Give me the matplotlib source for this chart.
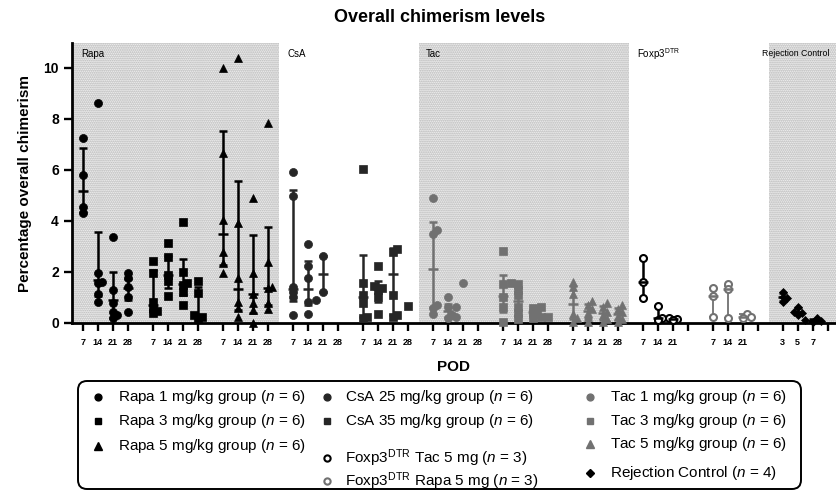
import matplotlib
matplotlib.use('Agg')
import matplotlib.pyplot as plt
import numpy as np
from matplotlib.patches import FancyBboxPatch
from matplotlib.lines import Line2D
from matplotlib.transforms import IdentityTransform

plt.rcParams['font.family'] = ['Liberation Sans', 'DejaVu Sans']
plt.rcParams['mathtext.fontset'] = 'custom'
plt.rcParams['mathtext.rm'] = 'Liberation Sans'
plt.rcParams['mathtext.it'] = 'Liberation Sans:italic'
plt.rcParams['mathtext.bf'] = 'Liberation Sans:bold'
plt.rcParams['hatch.linewidth'] = 1.0

# ---------------- data ----------------
days_std = ['7', '14', '21', '28']
days_fox = ['7', '14', '21', '']
days_rej = ['3', '5', '7', '']

rapa1_points = [[7.24, 5.80, 4.56, 4.30],
                [8.61, 1.95, 1.62, 1.55, 1.14, 0.81],
                [3.39, 1.29, 0.77, 0.44, 0.30, 0.18],
                [1.95, 1.75, 1.42, 1.03, 0.44]]
rapa1_median = [5.18, 1.70, 0.90, 1.38]
rapa1_q1 = [4.37, 1.05, 0.20, 0.90]
rapa1_q3 = [6.88, 3.58, 2.01, 1.72]

rapa3_points = [[2.44, 1.97, 0.84, 0.60, 0.47, 0.40],
                [3.15, 2.60, 1.88, 1.66, 1.07],
                [3.95, 2.01, 1.58, 1.49, 1.23, 0.71],
                [1.66, 1.16, 0.31, 0.25, 0.18]]
rapa3_median = [0.70, 1.88, 1.53, 0.31]
rapa3_q1 = [0.45, 1.37, 1.10, 0.22]
rapa3_q3 = [2.08, 2.62, 2.50, 1.40]

rapa5_points = [[9.99, 6.65, 4.04, 2.80, 2.34, 1.97],
                [10.38, 3.93, 1.75, 0.84, 0.58, 0.25],
                [4.91, 1.95, 1.14, 0.77, 0.51, 0.00],
                [7.83, 2.40, 1.42, 1.36, 0.77, 0.54]]
rapa5_median = [3.50, 1.35, 1.14, 1.39]
rapa5_q1 = [2.28, 0.50, 0.38, 0.71]
rapa5_q3 = [7.52, 5.58, 3.47, 3.78]

csa25_points = [[5.91, 4.99, 1.42, 1.23, 1.03, 0.31],
                [3.09, 2.24, 1.75, 0.89, 0.84, 0.35],
                [2.63, 1.20],
                []]
csa25_median = [1.32, 1.32, 1.92, None]
csa25_q1 = [0.85, 0.72, 1.20, None]
csa25_q3 = [5.20, 2.44, 2.63, None]

csa35_points = [[6.04, 1.58, 1.10, 0.77, 0.25, 0.18],
                [2.24, 1.45, 1.36, 1.30, 1.00, 0.35],
                [2.89, 2.80, 1.10, 0.31, 0.25],
                [0.67]]
csa35_median = [1.00, 1.33, 1.92, None]
csa35_q1 = [0.23, 0.84, 0.30, None]
csa35_q3 = [2.67, 1.65, 2.93, None]

tac1_points = [[4.91, 3.65, 3.49, 0.71, 0.60, 0.35],
               [1.00, 0.64, 0.62, 0.31, 0.25, 0.20],
               [1.55],
               []]
tac1_median = [2.12, 0.47, None, None]
tac1_q1 = [0.62, 0.24, None, None]
tac1_q3 = [3.95, 0.73, None, None]

tac3_points = [[2.82, 1.58, 1.53, 1.03, 0.64, 0.05],
               [1.53, 1.30, 1.10, 0.64, 0.38, 0.15],
               [0.64, 0.60, 0.45, 0.38, 0.25, 0.20],
               [0.25]]
tac3_median = [1.06, 0.87, 0.42, None]
tac3_q1 = [0.45, 0.32, 0.24, None]
tac3_q3 = [1.88, 1.36, 0.61, None]

tac5_points = [[1.62, 1.40, 1.15, 0.35, 0.18, 0.02],
               [0.88, 0.72, 0.55, 0.40, 0.22, 0.05],
               [0.77, 0.61, 0.45, 0.30, 0.16, 0.03],
               [0.71, 0.56, 0.42, 0.28, 0.15, 0.03]]
tac5_median = [0.75, 0.48, 0.38, 0.35]
tac5_q1 = [0.14, 0.18, 0.12, 0.12]
tac5_q3 = [1.46, 0.76, 0.65, 0.60]

foxtac_points = [[2.56, 1.62, 0.97],
                 [0.68, 0.21, 0.12],
                 [0.20, 0.16, 0.10],
                 []]
foxtac_median = [1.62, 0.21, 0.16, None]
foxtac_q1 = [0.97, 0.12, 0.10, None]
foxtac_q3 = [2.56, 0.68, 0.20, None]

foxrapa_points = [[1.39, 1.06, 0.25],
                  [1.52, 1.32, 0.18],
                  [0.35, 0.25, 0.20],
                  []]
foxrapa_median = [1.06, 1.32, 0.25, None]
foxrapa_q1 = [0.25, 0.18, 0.20, None]
foxrapa_q3 = [1.39, 1.45, 0.35, None]

rej_points = [[1.23, 1.03, 0.97, 0.84],
              [0.64, 0.45, 0.38, 0.32],
              [0.18, 0.10, 0.08, 0.05],
              []]
rej_median = [1.00, 0.42, 0.09, None]
rej_q1 = [0.87, 0.34, 0.06, None]
rej_q3 = [1.18, 0.60, 0.16, None]

legend_labels = [
    'Rapa 1 mg/kg group ($\\it{n}$ = 6)',
    'Rapa 3 mg/kg group ($\\it{n}$ = 6)',
    'Rapa 5 mg/kg group ($\\it{n}$ = 6)',
    'CsA 25 mg/kg group ($\\it{n}$ = 6)',
    'CsA 35 mg/kg group ($\\it{n}$ = 6)',
    'Foxp3$^{\\rm DTR}$ Tac 5 mg ($\\it{n}$ = 3)',
    'Foxp3$^{\\rm DTR}$ Rapa 5 mg ($\\it{n}$ = 3)',
    'Tac 1 mg/kg group ($\\it{n}$ = 6)',
    'Tac 3 mg/kg group ($\\it{n}$ = 6)',
    'Tac 5 mg/kg group ($\\it{n}$ = 6)',
    'Rejection Control ($\\it{n}$ = 4)',
]
region_labels = ['Rapa', 'CsA', 'Tac', 'Foxp3$^{\\rm DTR}$', 'Rejection Control']

# ---------------- styles ----------------
BLACK = '#000000'
CSA = '#262626'
TAC = '#717171'
groups = [
    dict(pts=rapa1_points, med=rapa1_median, lo=rapa1_q1, hi=rapa1_q3, days=days_std, m='o', c=BLACK, open=False, ms=5.8),
    dict(pts=rapa3_points, med=rapa3_median, lo=rapa3_q1, hi=rapa3_q3, days=days_std, m='s', c=BLACK, open=False, ms=5.4),
    dict(pts=rapa5_points, med=rapa5_median, lo=rapa5_q1, hi=rapa5_q3, days=days_std, m='^', c=BLACK, open=False, ms=6.0),
    dict(pts=csa25_points, med=csa25_median, lo=csa25_q1, hi=csa25_q3, days=days_std, m='o', c=CSA, open=False, ms=5.8),
    dict(pts=csa35_points, med=csa35_median, lo=csa35_q1, hi=csa35_q3, days=days_std, m='s', c=CSA, open=False, ms=5.4),
    dict(pts=tac1_points, med=tac1_median, lo=tac1_q1, hi=tac1_q3, days=days_std, m='o', c=TAC, open=False, ms=5.8),
    dict(pts=tac3_points, med=tac3_median, lo=tac3_q1, hi=tac3_q3, days=days_std, m='s', c=TAC, open=False, ms=5.4),
    dict(pts=tac5_points, med=tac5_median, lo=tac5_q1, hi=tac5_q3, days=days_std, m='^', c=TAC, open=False, ms=6.0),
    dict(pts=foxtac_points, med=foxtac_median, lo=foxtac_q1, hi=foxtac_q3, days=days_fox, m='o', c=BLACK, open=True, ms=5.0),
    dict(pts=foxrapa_points, med=foxrapa_median, lo=foxrapa_q1, hi=foxrapa_q3, days=days_fox, m='o', c=TAC, open=True, ms=5.0),
    dict(pts=rej_points, med=rej_median, lo=rej_q1, hi=rej_q3, days=days_rej, m='D', c=BLACK, open=False, ms=4.3),
]

W, H = 836, 491
fig = plt.figure(figsize=(W / 100, H / 100), dpi=100)

ax_left, ax_right, ax_top, ax_bot = 72, 836, 43, 323
ax = fig.add_axes([ax_left / W, 1 - ax_bot / H, (ax_right - ax_left) / W, (ax_bot - ax_top) / H])

STRIDE = 14 / 3.0
SLOT_PX = 15.0
first_px = 82.7
xmin = (ax_left - first_px) / SLOT_PX
xmax = (ax_right - first_px) / SLOT_PX
ax.set_xlim(xmin, xmax)
ax.set_ylim(0, 10.98)

# shaded regions
def boundary(g):
    return g * STRIDE + 3.75

shade = [(xmin, boundary(2)), (boundary(4), boundary(7)), (boundary(9), xmax)]
for a, b in shade:
    ax.axvspan(a, b, ymin=0, ymax=1, facecolor='#ffffff', edgecolor='#a6a6a6',
               hatch='........', linewidth=0, zorder=0)

# pixel scales for the swarm
sx = SLOT_PX
sy = (ax_bot - ax_top) / 10.98

def swarm(values, x0, diam=4.2, step=4.0):
    order = np.argsort(values)
    placed = []
    xs = np.zeros(len(values))
    for i in order:
        v = values[i]
        chosen = 0.0
        for k in [0, 1, -1, 2, -2, 3, -3, 4, -4]:
            dx = k * step
            if all(np.hypot(dx - px, (v - pv) * sy) >= diam for px, pv in placed):
                chosen = dx
                break
        placed.append((chosen, v))
        xs[i] = x0 + chosen / sx
    return xs

tick_pos, tick_lab = [], []
for g, grp in enumerate(groups):
    for s in range(4):
        x0 = g * STRIDE + s
        tick_pos.append(x0)
        tick_lab.append(grp['days'][s])
        vals = grp['pts'][s]
        if grp['med'][s] is not None:
            m, lo, hi = grp['med'][s], grp['lo'][s], grp['hi'][s]
            lw = 1.3 if (grp['open'] and grp['c'] == TAC) else 1.8
            ax.errorbar([x0], [m], yerr=[[m - lo], [hi - m]], fmt='none', ecolor=grp['c'],
                        elinewidth=lw, capsize=3.0, capthick=lw, zorder=3, clip_on=False)
        if vals:
            xs = swarm(np.array(vals, dtype=float), x0)
            if grp['open']:
                ax.plot(xs, vals, linestyle='none', marker=grp['m'], ms=grp['ms'],
                        mfc='white', mec=grp['c'], mew=1.5, zorder=4, clip_on=False)
            else:
                ax.plot(xs, vals, linestyle='none', marker=grp['m'], ms=grp['ms'],
                        mfc=grp['c'], mec=grp['c'], mew=0.5, zorder=4, clip_on=False)
        if grp['med'][s] is not None:
            ax.plot([x0], [grp['med'][s]], marker='_', ms=7, mew=1.8, color=grp['c'],
                    zorder=5, clip_on=False)

ax.set_xticks(tick_pos)
ax.set_xticklabels(tick_lab, fontsize=6.5, fontweight='bold')
ax.set_yticks([0, 2, 4, 6, 8, 10])
ax.set_yticklabels(['0', '2', '4', '6', '8', '10'], fontsize=10, fontweight='bold')
ax.tick_params(axis='x', length=5.5, width=1.7, pad=5, direction='out')
ax.tick_params(axis='y', length=6.0, width=1.7, pad=3.5, direction='out')
for side in ['top', 'right']:
    ax.spines[side].set_visible(False)
ax.spines['left'].set_linewidth(2.0)
ax.spines['bottom'].set_linewidth(2.0)
ax.set_facecolor('white')

ax.set_ylabel('Percentage overall chimerism', fontsize=11, fontweight='bold', labelpad=8)
ax.set_xlabel('POD', fontsize=11, fontweight='bold', labelpad=10)

# region labels
label_x = [xmin + 0.65, boundary(2) + 0.6, boundary(4) + 0.45, boundary(7) + 0.55, boundary(9) - 0.45]
label_size = [7, 7, 7, 7, 6.3]
for lx, txt, fs in zip(label_x, region_labels, label_size):
    ax.text(lx, 10.55, txt, fontsize=fs, ha='left', va='center', zorder=6)

fig.text(440 / W, 1 - 18 / H, 'Overall chimerism levels', fontsize=13, fontweight='bold',
         ha='center', va='center')

# legend (manual, in pixel coordinates)
box = FancyBboxPatch((78, 2), 723, 108, boxstyle='round,pad=0,rounding_size=9',
                     transform=IdentityTransform(), facecolor='white', edgecolor='black',
                     linewidth=1.4)
fig.patches.append(box)

leg_specs = [
    # (marker_x, text_x, y, group index)
    (98, 118, 397, 0), (98, 118, 421, 1), (98, 118, 446, 2),
    (327, 345, 397, 3), (327, 345, 421, 4), (327, 345, 458, 8), (327, 345, 481, 9),
    (590, 610, 397, 5), (590, 610, 421, 6), (590, 610, 444, 7), (590, 610, 473, 10),
]
for li, (mx, tx, y, gi) in enumerate(leg_specs):
    grp = groups[gi]
    fy = 1 - y / H
    if grp['open']:
        ln = Line2D([mx / W], [fy], marker='o', ms=4.5, mfc='white', mec=grp['c'], mew=1.5,
                    linestyle='none', transform=fig.transFigure)
    else:
        ln = Line2D([mx / W], [fy], marker=grp['m'], ms=grp['ms'] * 0.85, mfc=grp['c'],
                    mec=grp['c'], linestyle='none', transform=fig.transFigure)
    fig.add_artist(ln)
    fig.text(tx / W, fy, legend_labels[li], fontsize=11, ha='left', va='center')

fig.savefig('out.png', dpi=100)
